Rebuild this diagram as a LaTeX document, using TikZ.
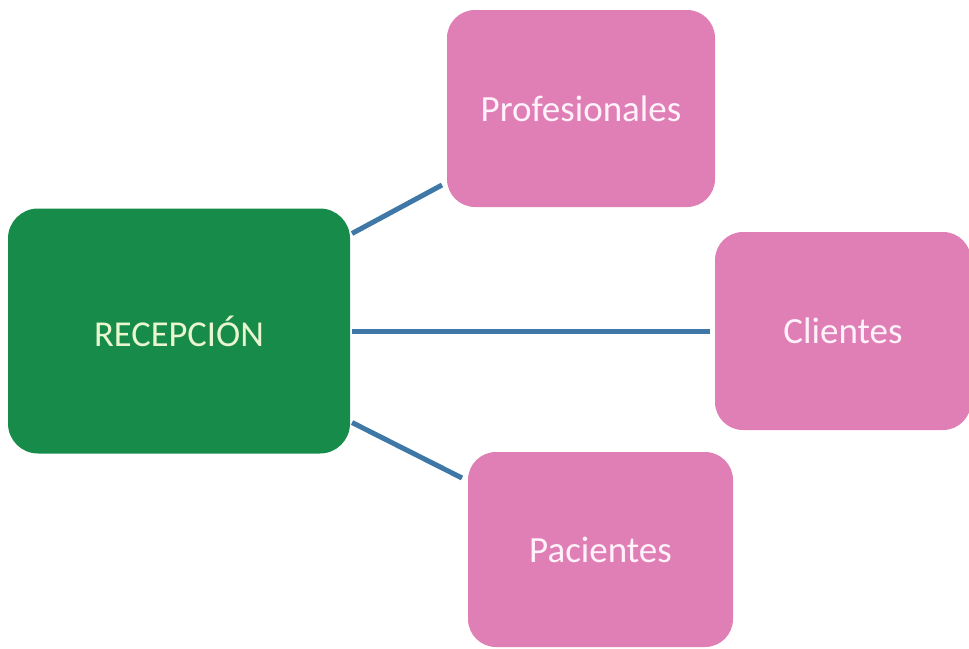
\documentclass[tikz,border=0pt]{standalone}
\usepackage{fontspec}
\setmainfont{Carlito}
\definecolor{boxgreen}{HTML}{178C4A}
\definecolor{boxpink}{HTML}{E07FB5}
\definecolor{linkblue}{HTML}{3F78A6}
\definecolor{greentext}{HTML}{E9F6CF}
\definecolor{pinktext}{HTML}{FFF2FA}
\begin{document}
\begin{tikzpicture}[x=1pt,y=-1pt,
  greenbox/.style={fill=boxgreen, draw=none, rounded corners=30pt, inner sep=0pt, outer sep=0pt,
    text=greentext, font=\fontsize{36.5}{40}\selectfont},
  pinkbox/.style={fill=boxpink, draw=none, rounded corners=28pt, inner sep=0pt, outer sep=0pt,
    text=pinktext, font=\fontsize{37}{40}\selectfont},
  link/.style={draw=linkblue, line width=5pt}]
\fill[white] (0,0) rectangle (969,648);
\useasboundingbox (0,0) rectangle (969,648);
\node[greenbox, minimum width=342pt, minimum height=245pt] (g) at (179,331) {RECEPCIÓN};
\node[pinkbox, minimum width=268pt, minimum height=197pt] (p) at (581,108.5) {Profesionales};
\node[pinkbox, minimum width=256pt, minimum height=198pt] (c) at (843,331) {Clientes};
\node[pinkbox, minimum width=265pt, minimum height=195pt] (a) at (600.5,549.5) {Pacientes};
\draw[link] ([xshift=2pt,yshift=-25pt]g.north east) -- ([xshift=-5pt,yshift=22pt]p.south west);
\draw[link] ([xshift=2pt]g.east) -- ([xshift=-5pt]c.west);
\draw[link] ([xshift=2pt,yshift=31pt]g.south east) -- ([xshift=-6pt,yshift=-26pt]a.north west);
\end{tikzpicture}
\end{document}
